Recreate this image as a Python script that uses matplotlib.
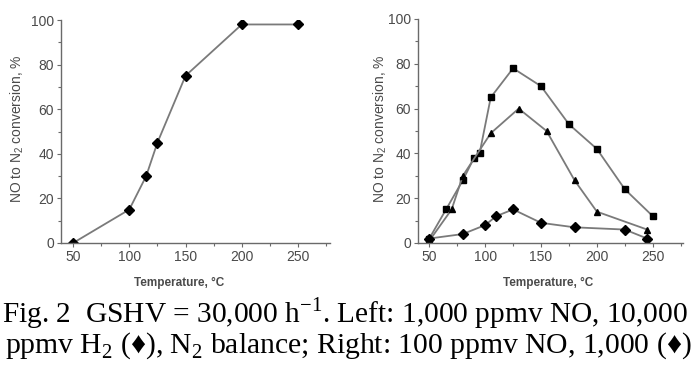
import matplotlib
matplotlib.use("Agg")
import matplotlib.pyplot as plt
from matplotlib.ticker import MultipleLocator

plt.rcParams["mathtext.fontset"] = "custom"
plt.rcParams["mathtext.rm"] = "Liberation Serif"
plt.rcParams["mathtext.sf"] = "Liberation Sans"

# Left panel: 1,000 ppmv NO, 10,000 ppmv H2
left_T = [50, 100, 115, 125, 150, 200, 250]
left_conv = [0, 15, 30, 45, 75, 98, 98]

# Right panel: 100 ppmv NO, three H2 levels
sq_T = [50, 65, 80, 90, 95, 105, 125, 150, 175, 200, 225, 250]
sq_conv = [2, 15, 28, 38, 40, 65, 78, 70, 53, 42, 24, 12]
tri_T = [50, 70, 80, 105, 130, 155, 180, 200, 245]
tri_conv = [1, 15, 30, 49, 60, 50, 28, 14, 6]
dia_T = [50, 80, 100, 110, 125, 150, 180, 225, 245]
dia_conv = [2, 4, 8, 12, 15, 9, 7, 6, 2]

x_ticks = [50, 100, 150, 200, 250]
y_ticks = [0, 20, 40, 60, 80, 100]

fig = plt.figure(figsize=(6.97, 3.71), dpi=100)
fig.patch.set_facecolor("white")

line_c = "#7a7a7a"
spine_c = "#6a6a6a"
text_c = "#4a4a4a"

W, H = 697.0, 371.0

def style(ax, xlim, xlab_x, ylab_x):
    ax.set_xlim(*xlim)
    ax.set_ylim(0, 100)
    ax.set_xticks(x_ticks)
    ax.set_yticks(y_ticks)
    ax.xaxis.set_minor_locator(MultipleLocator(25))
    ax.yaxis.set_minor_locator(MultipleLocator(10))
    for s in ["top", "right"]:
        ax.spines[s].set_visible(False)
    for s in ["left", "bottom"]:
        ax.spines[s].set_color(spine_c)
        ax.spines[s].set_linewidth(1.0)
    ax.tick_params(which="major", direction="out", length=3, width=0.8,
                   color=spine_c, labelcolor=text_c, labelsize=10, pad=2)
    ax.tick_params(which="minor", direction="out", length=2, width=0.8,
                   color=spine_c)
    for lab in ax.get_xticklabels() + ax.get_yticklabels():
        lab.set_family("Liberation Sans")
    ax.set_xlabel("Temperature, °C", fontsize=8.5, fontweight="bold",
                  color=text_c, family="Liberation Sans")
    ax.set_ylabel("NO to N$_\\mathsf{2}$ conversion, %", fontsize=10,
                  color=text_c, family="Liberation Sans")
    pos = ax.get_position()
    ax.xaxis.set_label_coords((xlab_x / W - pos.x0) / pos.width,
                              ((H - 283) / H - pos.y0) / pos.height)
    ax.xaxis.label.set_va("center")
    ax.yaxis.set_label_coords((ylab_x / W - pos.x0) / pos.width,
                              ((H - 129) / H - pos.y0) / pos.height)
    ax.yaxis.label.set_va("center")

ax1 = fig.add_axes([61/W, 128/H, 269/W, 223/H])
ax1.plot(left_T, left_conv, color=line_c, lw=1.3, marker="D", ms=5,
         mfc="black", mec="black")
style(ax1, (39.3, 278.4), 179, 17)

ax2 = fig.add_axes([417.7/W, 128/H, 265.3/W, 224/H])
ax2.plot(sq_T, sq_conv, color=line_c, lw=1.3, marker="s", ms=4.3,
         mfc="black", mec="black")
ax2.plot(tri_T, tri_conv, color=line_c, lw=1.3, marker="^", ms=5,
         mfc="black", mec="black")
ax2.plot(dia_T, dia_conv, color=line_c, lw=1.3, marker="D", ms=4.6,
         mfc="black", mec="black")
style(ax2, (39.6, 277.1), 548, 380)

fig.text(2/W, 1 - 322/H,
         "Fig. 2  GSHV = 30,000 h$^{\\mathrm{-1}}$. Left: 1,000 ppmv NO, 10,000",
         ha="left", va="baseline", fontsize=21.2, family="Liberation Serif",
         color="black")
fig.text(348.5/W, 1 - 353/H,
         "ppmv H$_{\\mathrm{2}}$ (\u2666), N$_{\\mathrm{2}}$ balance; Right: 100 ppmv NO, 1,000 (\u2666)",
         ha="center", va="baseline", fontsize=21.3,
         family=["Liberation Serif", "DejaVu Serif"], color="black")

fig.savefig("out.png", dpi=100)
